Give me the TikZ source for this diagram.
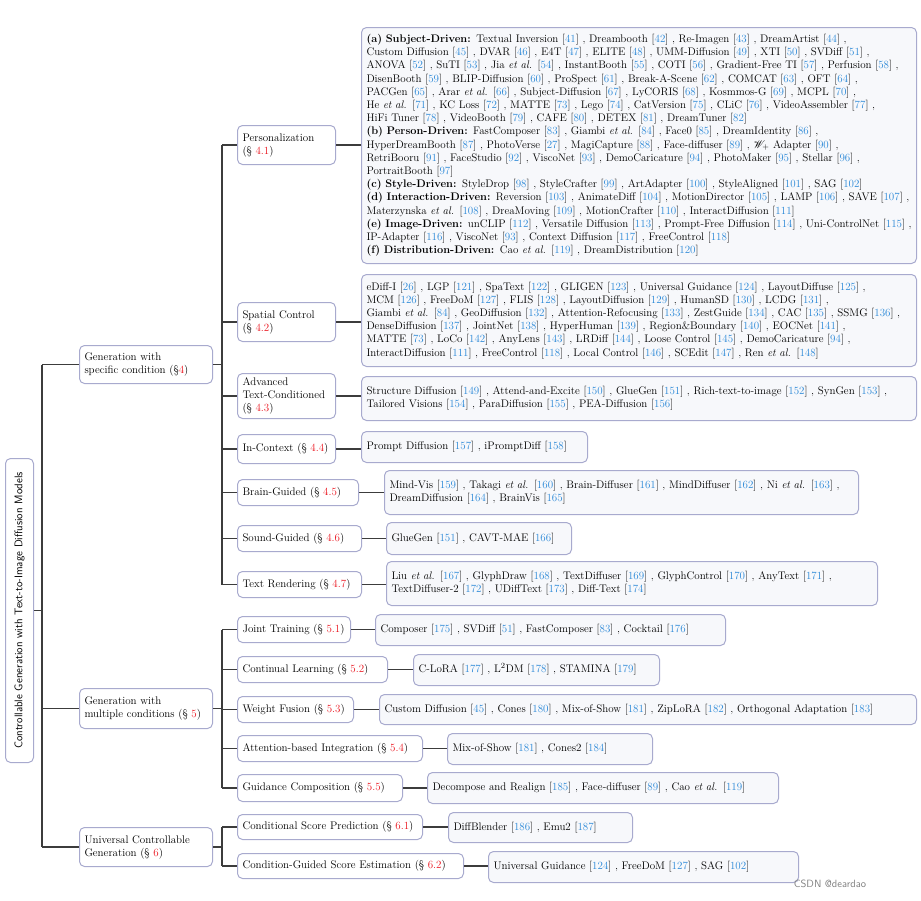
\documentclass[tikz,border=0pt]{standalone}
\usepackage{graphicx}
\usepackage{mathrsfs}
\usetikzlibrary{calc}
\definecolor{boxc}{RGB}{168,170,206}
\definecolor{leaff}{RGB}{247,248,251}
\definecolor{linec}{RGB}{60,60,60}
\definecolor{citeb}{RGB}{40,135,215}
\definecolor{secr}{RGB}{235,20,30}
\newcommand{\rfc}[1]{[\textcolor{citeb}{#1}]}
\newcommand{\sr}[1]{\textcolor{secr}{#1}}
\newcommand{\etal}{\textit{et al.}}
\newcommand{\mylines}[1]{\begin{tabular}{@{}l@{}}#1\end{tabular}}
\tikzset{
  lab/.style={draw=boxc, fill=white, line width=1pt, rounded corners=5pt, anchor=north west,
    align=left, inner xsep=5pt, inner ysep=0pt, font=\fontsize{11}{13.2}\selectfont},
  leaf/.style={lab, fill=leaff},
  conn/.style={draw=linec, line width=1.6pt},
}
\begin{document}
\begin{tikzpicture}[x=1pt,y=-1pt]
\useasboundingbox (0,0) rectangle (921,900);

% root
\node[draw=boxc, fill=white, line width=1pt, rounded corners=5pt, anchor=north west, inner sep=0pt,
  minimum width=28pt, minimum height=304pt] (root) at (5,458)
  {\rotatebox{90}{\sffamily\fontsize{11.1}{12}\selectfont Controllable Generation with Text-to-Image Diffusion Models}};

% level 1
\node[lab, text width=123pt, minimum height=38pt] (g4) at (79,345) {\mylines{Generation with\\specific condition (\S\sr{4})}};
\node[lab, text width=123pt, minimum height=40pt] (g5) at (79,688) {\mylines{Generation with\\multiple conditions (\S~\sr{5})}};
\node[lab, text width=123pt, minimum height=39pt] (g6) at (79,827) {\mylines{Universal Controllable\\Generation (\S~\sr{6})}};

% level 2
\node[lab, text width=88pt, minimum height=39pt] (p41) at (237,125) {\mylines{Personalization\\(\S~\sr{4.1})}};
\node[lab, text width=88pt, minimum height=39pt] (p42) at (237,302) {\mylines{Spatial Control\\(\S~\sr{4.2})}};
\node[lab, text width=88pt, minimum height=45pt] (p43) at (237,373) {\mylines{Advanced\\Text-Conditioned\\(\S~\sr{4.3})}};
\node[lab, text width=88pt, minimum height=29pt] (p44) at (237,434) {\mylines{In-Context (\S~\sr{4.4})}};
\node[lab, text width=111pt, minimum height=26pt] (p45) at (237,479) {\mylines{Brain-Guided (\S~\sr{4.5})}};
\node[lab, text width=114pt, minimum height=26pt] (p46) at (237,525) {\mylines{Sound-Guided (\S~\sr{4.6})}};
\node[lab, text width=114pt, minimum height=26pt] (p47) at (237,571) {\mylines{Text Rendering (\S~\sr{4.7})}};
\node[lab, text width=103pt, minimum height=26pt] (p51) at (237,616) {\mylines{Joint Training (\S~\sr{5.1})}};
\node[lab, text width=140pt, minimum height=26pt] (p52) at (237,656) {\mylines{Continual Learning (\S~\sr{5.2})}};
\node[lab, text width=106pt, minimum height=26pt] (p53) at (237,696) {\mylines{Weight Fusion (\S~\sr{5.3})}};
\node[lab, text width=175pt, minimum height=26pt] (p54) at (237,735) {\mylines{Attention-based Integration (\S~\sr{5.4})}};
\node[lab, text width=155pt, minimum height=27pt] (p55) at (237,774) {\mylines{Guidance Composition (\S~\sr{5.5})}};
\node[lab, text width=175pt, minimum height=25pt] (p61) at (237,814) {\mylines{Conditional Score Prediction (\S~\sr{6.1})}};
\node[lab, text width=216pt, minimum height=25pt] (p62) at (237,853) {\mylines{Condition-Guided Score Estimation (\S~\sr{6.2})}};

% leaves
\node[leaf, text width=545pt, minimum height=236pt] (l41) at (361,27) {\mylines{%
\textbf{(a) Subject-Driven:} Textual Inversion \rfc{41} , Dreambooth \rfc{42} , Re-Imagen \rfc{43} , DreamArtist \rfc{44} ,\\
Custom Diffusion \rfc{45} , DVAR \rfc{46} , E4T \rfc{47} , ELITE \rfc{48} , UMM-Diffusion \rfc{49} , XTI \rfc{50} , SVDiff \rfc{51} ,\\
ANOVA \rfc{52} , SuTI \rfc{53} , Jia \etal{} \rfc{54} , InstantBooth \rfc{55} , COTI \rfc{56} , Gradient-Free TI \rfc{57} , Perfusion \rfc{58} ,\\
DisenBooth \rfc{59} , BLIP-Diffusion \rfc{60} , ProSpect \rfc{61} , Break-A-Scene \rfc{62} , COMCAT \rfc{63} , OFT \rfc{64} ,\\
PACGen \rfc{65} , Arar \etal{} \rfc{66} , Subject-Diffusion \rfc{67} , LyCORIS \rfc{68} , Kosmmos-G \rfc{69} , MCPL \rfc{70} ,\\
He \etal{} \rfc{71} , KC Loss \rfc{72} , MATTE \rfc{73} , Lego \rfc{74} , CatVersion \rfc{75} , CLiC \rfc{76} , VideoAssembler \rfc{77} ,\\
HiFi Tuner \rfc{78} , VideoBooth \rfc{79} , CAFE \rfc{80} , DETEX \rfc{81} , DreamTuner \rfc{82}\\
\textbf{(b) Person-Driven:} FastComposer \rfc{83} , Giambi \etal{} \rfc{84} , Face0 \rfc{85} , DreamIdentity \rfc{86} ,\\
HyperDreamBooth \rfc{87} , PhotoVerse \rfc{27} , MagiCapture \rfc{88} , Face-diffuser \rfc{89} , $\mathscr{W}_{+}$ Adapter \rfc{90} ,\\
RetriBooru \rfc{91} , FaceStudio \rfc{92} , ViscoNet \rfc{93} , DemoCaricature \rfc{94} , PhotoMaker \rfc{95} , Stellar \rfc{96} ,\\
PortraitBooth \rfc{97}\\
\textbf{(c) Style-Driven:} StyleDrop \rfc{98} , StyleCrafter \rfc{99} , ArtAdapter \rfc{100} , StyleAligned \rfc{101} , SAG \rfc{102}\\
\textbf{(d) Interaction-Driven:} Reversion \rfc{103} , AnimateDiff \rfc{104} , MotionDirector \rfc{105} , LAMP \rfc{106} , SAVE \rfc{107} ,\\
Materzynska \etal{} \rfc{108} , DreaMoving \rfc{109} , MotionCrafter \rfc{110} , InteractDiffusion \rfc{111}\\
\textbf{(e) Image-Driven:} unCLIP \rfc{112} , Versatile Diffusion \rfc{113} , Prompt-Free Diffusion \rfc{114} , Uni-ControlNet \rfc{115} ,\\
IP-Adapter \rfc{116} , ViscoNet \rfc{93} , Context Diffusion \rfc{117} , FreeControl \rfc{118}\\
\textbf{(f) Distribution-Driven:} Cao \etal{} \rfc{119} , DreamDistribution \rfc{120}}};

\node[leaf, text width=545pt, minimum height=92pt] (l42) at (361,274) {\mylines{%
eDiff-I \rfc{26} , LGP \rfc{121} , SpaText \rfc{122} , GLIGEN \rfc{123} , Universal Guidance \rfc{124} , LayoutDiffuse \rfc{125} ,\\
MCM \rfc{126} , FreeDoM \rfc{127} , FLIS \rfc{128} , LayoutDiffusion \rfc{129} , HumanSD \rfc{130} , LCDG \rfc{131} ,\\
Giambi \etal{} \rfc{84} , GeoDiffusion \rfc{132} , Attention-Refocusing \rfc{133} , ZestGuide \rfc{134} , CAC \rfc{135} , SSMG \rfc{136} ,\\
DenseDiffusion \rfc{137} , JointNet \rfc{138} , HyperHuman \rfc{139} , Region\&Boundary \rfc{140} , EOCNet \rfc{141} ,\\
MATTE \rfc{73} , LoCo \rfc{142} , AnyLens \rfc{143} , LRDiff \rfc{144} , Loose Control \rfc{145} , DemoCaricature \rfc{94} ,\\
InteractDiffusion \rfc{111} , FreeControl \rfc{118} , Local Control \rfc{146} , SCEdit \rfc{147} , Ren \etal{} \rfc{148}}};

\node[leaf, text width=545pt, minimum height=44pt] (l43) at (361,376) {\mylines{%
Structure Diffusion \rfc{149} , Attend-and-Excite \rfc{150} , GlueGen \rfc{151} , Rich-text-to-image \rfc{152} , SynGen \rfc{153} ,\\
Tailored Visions \rfc{154} , ParaDiffusion \rfc{155} , PEA-Diffusion \rfc{156}}};

\node[leaf, text width=216pt, minimum height=31pt] (l44) at (361,431) {\mylines{Prompt Diffusion \rfc{157} , iPromptDiff \rfc{158}}};

\node[leaf, text width=464pt, minimum height=44pt] (l45) at (384,470) {\mylines{%
Mind-Vis \rfc{159} , Takagi \etal{} \rfc{160} , Brain-Diffuser \rfc{161} , MindDiffuser \rfc{162} , Ni \etal{} \rfc{163} ,\\
DreamDiffusion \rfc{164} , BrainVis \rfc{165}}};

\node[leaf, text width=175pt, minimum height=32pt] (l46) at (386,522) {\mylines{GlueGen \rfc{151} , CAVT-MAE \rfc{166}}};

\node[leaf, text width=481pt, minimum height=44pt] (l47) at (386,561) {\mylines{%
Liu \etal{} \rfc{167} , GlyphDraw \rfc{168} , TextDiffuser \rfc{169} , GlyphControl \rfc{170} , AnyText \rfc{171} ,\\
TextDiffuser-2 \rfc{172} , UDiffText \rfc{173} , Diff-Text \rfc{174}}};

\node[leaf, text width=340pt, minimum height=31pt] (l51) at (375,614) {\mylines{Composer \rfc{175} , SVDiff \rfc{51} , FastComposer \rfc{83} , Cocktail \rfc{176}}};
\node[leaf, text width=236pt, minimum height=31pt] (l52) at (413,654) {\mylines{C-LoRA \rfc{177} , L$^{2}$DM \rfc{178} , STAMINA \rfc{179}}};
\node[leaf, text width=527pt, minimum height=30pt] (l53) at (379,694) {\mylines{Custom Diffusion \rfc{45} , Cones \rfc{180} , Mix-of-Show \rfc{181} , ZipLoRA \rfc{182} , Orthogonal Adaptation \rfc{183}}};
\node[leaf, text width=195pt, minimum height=31pt] (l54) at (447,733) {\mylines{Mix-of-Show \rfc{181} , Cones2 \rfc{184}}};
\node[leaf, text width=341pt, minimum height=31pt] (l55) at (427,772) {\mylines{Decompose and Realign \rfc{185} , Face-diffuser \rfc{89} , Cao \etal{} \rfc{119}}};
\node[leaf, text width=174pt, minimum height=30pt] (l61) at (448,812) {\mylines{DiffBlender \rfc{186} , Emu2 \rfc{187}}};
\node[leaf, text width=300pt, minimum height=31pt] (l62) at (488,851) {\mylines{Universal Guidance \rfc{124} , FreeDoM \rfc{127} , SAG \rfc{102}}};

% watermark
\node[anchor=center, text=gray, font=\sffamily\fontsize{10.5}{12}\selectfont] (wm) at (830,884) {CSDN @deardao};

% connectors
\coordinate (v0) at (42,0);
\coordinate (v1) at (222,0);
\draw[conn] (root.east) -- (root.east -| v0);
\draw[conn] (g4.west -| v0) -- (g6.west -| v0);
\foreach \n in {g4,g5,g6} \draw[conn] (\n.west -| v0) -- (\n.west);

\draw[conn] (g4.east) -- (g4.east -| v1);
\draw[conn] (p41.west -| v1) -- (p47.west -| v1);
\foreach \n in {p41,p42,p43,p44,p45,p46,p47} \draw[conn] (\n.west -| v1) -- (\n.west);

\draw[conn] (g5.east) -- (g5.east -| v1);
\draw[conn] (p51.west -| v1) -- (p55.west -| v1);
\foreach \n in {p51,p52,p53,p54,p55} \draw[conn] (\n.west -| v1) -- (\n.west);

\draw[conn] (g6.east) -- (g6.east -| v1);
\draw[conn] (p61.west -| v1) -- (p62.west -| v1);
\foreach \n in {p61,p62} \draw[conn] (\n.west -| v1) -- (\n.west);

\foreach \a/\b in {p41/l41,p42/l42,p43/l43,p44/l44,p45/l45,p46/l46,p47/l47,p51/l51,p52/l52,p53/l53,p54/l54,p55/l55,p61/l61,p62/l62}
  \draw[conn] (\a.east) -- (\a.east -| \b.west);
\end{tikzpicture}
\end{document}
